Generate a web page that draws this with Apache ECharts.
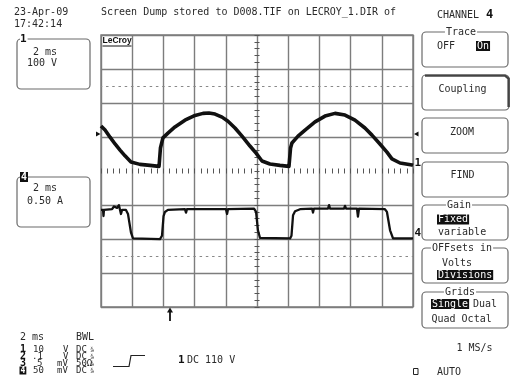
<!DOCTYPE html>
<html><head><meta charset="utf-8">
<script src="https://cdn.jsdelivr.net/npm/echarts@6/dist/echarts.min.js"></script>
<style>html,body{margin:0;padding:0;background:#fff}#c{width:517px;height:383px}</style>
</head><body><div id="c"></div>
<script>
const msPerDiv = 2, voltsPerDiv = 100, ampsPerDiv = 0.5;
const ch1OffsetDiv = 0.235, ch4OffsetDiv = -1.824;
const ch1Time = [0,0.26,0.58,0.90,1.22,1.54,1.92,2.50,3.14,3.72,3.75,3.81,3.97,4.29,4.74,5.38,6.03,6.54,6.92,7.31,7.76,8.14,8.59,9.04,9.55,9.94,10.32,10.83,11.47,12.05,12.08,12.15,12.24,12.63,13.08,13.72,14.36,15.0,15.64,16.28,16.92,17.37,17.88,18.33,18.65,19.17,19.94,20];
const ch1Volts = [109,97,76,56,38,21,3,-4,-7,-10,-10,44,74,88,106,126,140,146,147,144,135,123,103,79,50,29,6,-3,-7,-10,-10,44,59,79,97,121,138,146,141,126,103,82,56,32,12,0,-6,-7];
const ch4Time = [0,0.13,0.16,0.19,0.71,0.83,1.03,1.15,1.22,1.28,1.35,1.60,1.73,1.92,2.05,3.78,3.91,4.01,4.10,4.29,5.38,5.45,5.51,8.01,8.08,8.14,9.81,9.94,10.06,10.19,12.12,12.21,12.31,12.44,12.76,13.53,13.59,13.65,14.55,14.62,14.68,15.58,15.64,15.71,16.41,16.47,16.54,18.20,18.33,18.53,18.72,20];
const ch4Amps = [0.34,0.34,0.25,0.34,0.35,0.39,0.37,0.41,0.34,0.28,0.34,0.34,0.28,0.01,-0.08,-0.09,-0.04,0.25,0.31,0.34,0.35,0.30,0.35,0.35,0.28,0.35,0.36,0.31,0.04,-0.07,-0.08,-0.04,0.26,0.32,0.35,0.36,0.30,0.36,0.36,0.41,0.36,0.36,0.40,0.36,0.36,0.24,0.36,0.35,0.31,0.04,-0.08,-0.08];
const dottedLevelsDiv = [2.5, -2.5];

// ---- build ----
const chart = echarts.init(document.getElementById('c'), null, {renderer:'canvas'});
const ch1Data = ch1Time.map((t,i)=>[t, ch1Volts[i]]);
const ch4Data = ch4Time.map((t,i)=>[t, ch4Amps[i]]);
const GRID = '#7d7d7d';
const MONO = '"DejaVu Sans Mono", monospace';
const F = '10px ' + MONO;
const INK = '#2a2a2a';
function txt(x, y, s, o) {
  return {type:'text', x:x, y:y, silent:true, z:100,
    style: Object.assign({text:s, font:F, fill:INK, align:'left', textAlign:'left', verticalAlign:'middle', textVerticalAlign:'middle'}, o||{})};
}
function box(x, y, w, h, o) {
  return {type:'rect', silent:true, z:90, shape:{x:x, y:y, width:w, height:h, r:4},
    style: Object.assign({fill:'none', stroke:'#6a6a6a', lineWidth:1.2}, o||{})};
}
const INV = {fill:'#fff', backgroundColor:'#111', padding:[0,1,0,1]};
const TITLE = {backgroundColor:'#fff', padding:[0,1,0,1], align:'center', textAlign:'center'};
const CEN = {align:'center', textAlign:'center'};
const SMALL = '9px ' + MONO;
const BOLD = 'bold 11px ' + MONO;
const NUM = 'bold 10px ' + MONO;

const graphic = [
  txt(14, 12.5, '23-Apr-09'),
  txt(14, 24.5, '17:42:14'),
  txt(101, 12.5, 'Screen Dump stored to D008.TIF on LECROY_1.DIR of'),
  txt(437, 15, 'CHANNEL'),
  txt(486, 15, '4', {font:'bold 12px ' + MONO, fill:'#111'}),
  // channel 1 box
  box(17, 39, 73, 50),
  txt(20, 39, '1', {font:BOLD, fill:'#111', backgroundColor:'#fff', padding:[0,1,0,0]}),
  txt(33, 52.5, '2 ms'),
  txt(27, 63.5, '100 V'),
  // channel 4 box
  box(17, 177, 73, 50),
  txt(20, 177, '4', Object.assign({font:'bold 10px ' + MONO}, INV)),
  txt(33, 188.5, '2 ms'),
  txt(27, 201.5, '0.50 A'),
  // LeCroy logo
  txt(102.5, 41, 'LeCroy', {font:'bold 8.5px "Liberation Sans", sans-serif', fill:'#111'}),
  {type:'line', silent:true, z:100, shape:{x1:102.5, y1:46, x2:131.5, y2:46}, style:{stroke:'#111', lineWidth:1}},
  // markers on grid
  {type:'polygon', silent:true, z:100, shape:{points:[[96,131.5],[100.5,134],[96,136.5]]}, style:{fill:'#111'}},
  {type:'polygon', silent:true, z:100, shape:{points:[[418.5,131.5],[414,134],[418.5,136.5]]}, style:{fill:'#111'}},
  txt(414.5, 163, '1', {font:BOLD, fill:'#111'}),
  txt(414.5, 233, '4', {font:BOLD, fill:'#111'}),
  {type:'line', silent:true, z:100, shape:{x1:170, y1:321, x2:170, y2:310}, style:{stroke:'#111', lineWidth:1.8}},
  {type:'polygon', silent:true, z:100, shape:{points:[[167,312.5],[170,307.5],[173,312.5]]}, style:{fill:'#111'}},
  // right menu
  box(422, 32, 86, 35),
  txt(461, 32, 'Trace', TITLE),
  txt(437, 46, 'OFF'),
  txt(476, 46, 'On', INV),
  box(422, 75, 87, 35),
  {type:'polyline', silent:true, z:91, shape:{points:[[425,75.6],[505,75.6],[508.6,78.5],[508.6,107]]}, style:{stroke:'#444', lineWidth:2.4, fill:'none'}},
  txt(462.5, 89.5, 'Coupling', CEN),
  box(422, 118, 86, 35),
  txt(462, 132, 'ZOOM', CEN),
  box(422, 162, 86, 35),
  txt(462.5, 175.5, 'FIND', CEN),
  box(422, 205, 86, 35),
  txt(459, 205, 'Gain', TITLE),
  txt(437, 219.5, 'Fixed', INV),
  txt(438, 232, 'variable'),
  box(422, 248, 86, 35),
  txt(462, 248, 'OFFsets in', TITLE),
  txt(457, 263, 'Volts', CEN),
  txt(437, 275, 'Divisions', INV),
  box(422, 292, 86, 36),
  txt(460, 292, 'Grids', TITLE),
  txt(431, 304, 'Single', INV),
  txt(473, 304, 'Dual'),
  txt(431.5, 319, 'Quad Octal'),
  txt(456.5, 348.5, '1 MS/s'),
  {type:'rect', silent:true, z:100, shape:{x:413.5, y:368.5, width:4.5, height:6}, style:{fill:'none', stroke:'#222', lineWidth:1}},
  txt(437, 372, 'AUTO'),
  // bottom left
  txt(20, 337, '2 ms'),
  txt(76, 337, 'BWL'),
  txt(20, 349.5, '1', {font:NUM, fill:'#111'}),
  txt(33, 349.5, '10', {font:SMALL}), txt(63, 349.5, 'V', {font:SMALL}), txt(76, 349.5, 'DC', {font:SMALL}),
  txt(20, 356.5, '2', {font:NUM, fill:'#111'}),
  txt(32, 356.5, '.1', {font:SMALL}), txt(63, 356.5, 'V', {font:SMALL}), txt(76, 356.5, 'DC', {font:SMALL}),
  txt(20, 363.5, '3', {font:NUM, fill:'#111'}),
  txt(37, 363.5, '5', {font:SMALL}), txt(57, 363.5, 'mV', {font:SMALL}), txt(76, 363.5, '50Ω', {font:SMALL}),
  txt(19.5, 370.5, '4', Object.assign({font:'bold 8px ' + MONO}, INV, {padding:[0,1,0,1]})),
  txt(33, 370.5, '50', {font:SMALL}), txt(57, 370.5, 'mV', {font:SMALL}), txt(76, 370.5, 'DC', {font:SMALL}),
  txt(90.5, 348, 'x', {font:'4px ' + MONO}), txt(90, 351, '1M', {font:'3.5px ' + MONO}),
  txt(90.5, 355, 'x', {font:'4px ' + MONO}), txt(90, 358, '1M', {font:'3.5px ' + MONO}),
  txt(90.5, 362, 'x', {font:'4px ' + MONO}), txt(90, 365, '1M', {font:'3.5px ' + MONO}),
  txt(90.5, 369, 'x', {font:'4px ' + MONO}), txt(90, 372, '1M', {font:'3.5px ' + MONO}),
  {type:'polyline', silent:true, z:100, shape:{points:[[113,366.5],[129,366.5],[131,355.5],[145,355.5]]}, style:{stroke:'#222', lineWidth:1.2, fill:'none'}},
  txt(178, 360, '1', {font:'bold 11px ' + MONO, fill:'#111'}),
  txt(187, 360, 'DC 110 V')
];

const splitColors = [GRID,GRID,GRID,GRID,'rgba(0,0,0,0)',GRID,GRID,GRID,GRID];
function tickAxis(base, inside) {
  return Object.assign({type:'value', axisLine:{show:false, onZero:false}, axisLabel:{show:false}, splitLine:{show:false},
    axisTick:{show:true, inside:inside, length:2.5, lineStyle:{color:'#555', width:1}}}, base);
}
const option = {
  animation:false,
  backgroundColor:'#fff',
  grid:{left:101, top:35, width:312, height:272, show:true, borderColor:GRID, borderWidth:1.4, backgroundColor:'rgba(0,0,0,0)'},
  xAxis:[
    {type:'value', min:0, max:10*msPerDiv, interval:msPerDiv, axisLine:{show:false, onZero:false}, axisTick:{show:false}, axisLabel:{show:false},
      splitLine:{show:true, lineStyle:{color:GRID, width:1.4}}},
    tickAxis({min:0, max:10*msPerDiv, interval:msPerDiv/5, position:'bottom', offset:-136}, true),
    tickAxis({min:0, max:10*msPerDiv, interval:msPerDiv/5, position:'bottom', offset:-136}, false)
  ],
  yAxis:[
    {type:'value', min:-4, max:4, interval:1, axisLine:{show:false, onZero:false}, axisTick:{show:false}, axisLabel:{show:false},
      splitLine:{show:true, lineStyle:{color:splitColors, width:1.4}}},
    {type:'value', show:false, min:(-4-ch1OffsetDiv)*voltsPerDiv, max:(4-ch1OffsetDiv)*voltsPerDiv, axisLine:{onZero:false}},
    {type:'value', show:false, min:(-4-ch4OffsetDiv)*ampsPerDiv, max:(4-ch4OffsetDiv)*ampsPerDiv, axisLine:{onZero:false}},
    tickAxis({min:-4, max:4, interval:0.2, position:'left', offset:-156}, true),
    tickAxis({min:-4, max:4, interval:0.2, position:'left', offset:-156}, false)
  ],
  series:[
    {type:'line', name:'C1', xAxisIndex:0, yAxisIndex:1, data:ch1Data, symbol:'none', showSymbol:false,
      lineStyle:{color:'#111', width:3.6, join:'round'}, z:5},
    {type:'line', name:'C4', xAxisIndex:0, yAxisIndex:2, data:ch4Data, symbol:'none', showSymbol:false,
      lineStyle:{color:'#111', width:2.3, join:'round'}, z:5},
    {type:'line', name:'levels', xAxisIndex:0, yAxisIndex:0, data:[], symbol:'none',
      markLine:{silent:true, symbol:'none', label:{show:false}, animation:false,
        lineStyle:{color:'#888', width:1, type:[2.5,3.74], dashOffset:1.25},
        data: dottedLevelsDiv.map(v=>({yAxis:v}))}}
  ],
  graphic: graphic
};
chart.setOption(option);
</script>
</body></html>
